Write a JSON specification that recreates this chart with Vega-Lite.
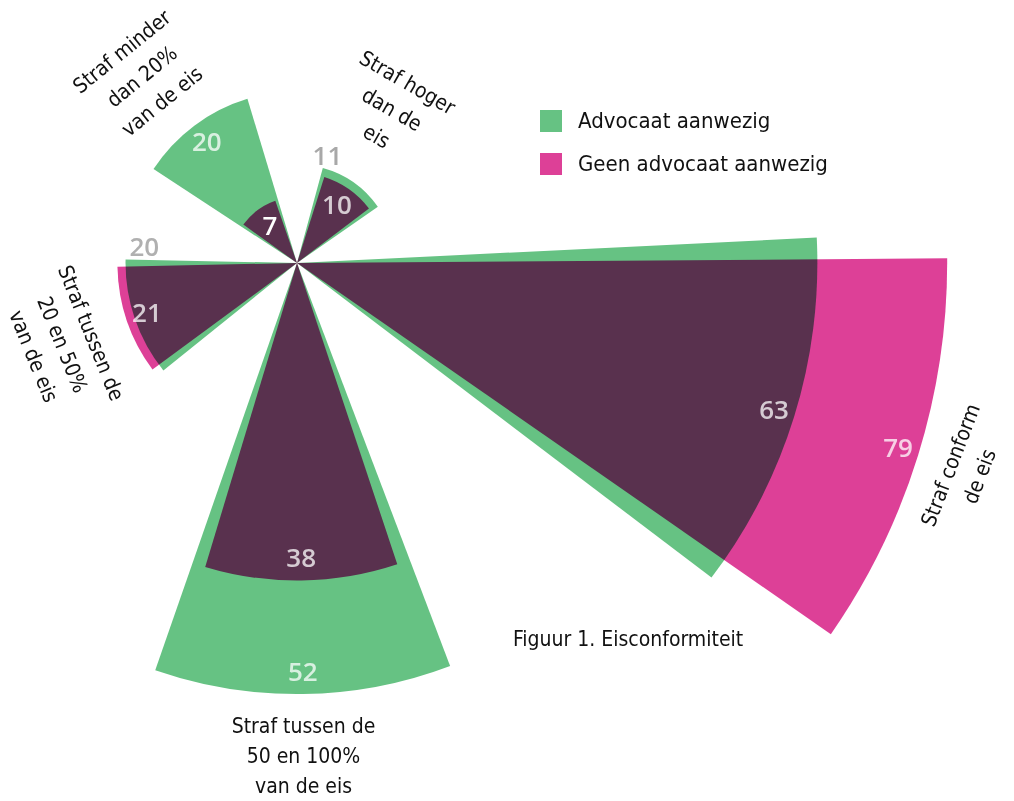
{
  "$schema": "https://vega.github.io/schema/vega-lite/v6.json",
  "autosize": "none",
  "width": 594,
  "height": 526,
  "padding": {"left": 0, "top": 0, "right": 420, "bottom": 275},
  "background": "white",
  "config": {"view": {"stroke": null}},
  "title": {
    "text": "Figuur 1. Eisconformiteit",
    "orient": "bottom",
    "anchor": "start",
    "frame": "group",
    "baseline": "alphabetic",
    "dx": 513,
    "offset": -151,
    "font": "DejaVu Sans Condensed",
    "fontSize": 21,
    "fontWeight": "normal",
    "color": "#111111"
  },
  "data": {
    "values": [
      {"cat": "Straf hoger dan de eis", "label": "Straf hoger\ndan de\neis", "series": "Advocaat aanwezig", "value": 11},
      {"cat": "Straf hoger dan de eis", "label": "Straf hoger\ndan de\neis", "series": "Geen advocaat aanwezig", "value": 10},
      {"cat": "Straf conform de eis", "label": "Straf conform\nde eis", "series": "Advocaat aanwezig", "value": 63},
      {"cat": "Straf conform de eis", "label": "Straf conform\nde eis", "series": "Geen advocaat aanwezig", "value": 79},
      {"cat": "Straf tussen de 50 en 100% van de eis", "label": "Straf tussen de\n50 en 100%\nvan de eis", "series": "Advocaat aanwezig", "value": 52},
      {"cat": "Straf tussen de 50 en 100% van de eis", "label": "Straf tussen de\n50 en 100%\nvan de eis", "series": "Geen advocaat aanwezig", "value": 38},
      {"cat": "Straf tussen de 20 en 50% van de eis", "label": "Straf tussen de\n20 en 50%\nvan de eis", "series": "Advocaat aanwezig", "value": 20},
      {"cat": "Straf tussen de 20 en 50% van de eis", "label": "Straf tussen de\n20 en 50%\nvan de eis", "series": "Geen advocaat aanwezig", "value": 21},
      {"cat": "Straf minder dan 20% van de eis", "label": "Straf minder\ndan 20%\nvan de eis", "series": "Advocaat aanwezig", "value": 20},
      {"cat": "Straf minder dan 20% van de eis", "label": "Straf minder\ndan 20%\nvan de eis", "series": "Geen advocaat aanwezig", "value": 7}
    ]
  },
  "encoding": {
    "theta": {
      "field": "cat",
      "type": "nominal",
      "sort": null,
      "scale": {
        "type": "band",
        "domain": ["Straf hoger dan de eis", "Straf conform de eis", "Straf tussen de 50 en 100% van de eis", "Straf tussen de 20 en 50% van de eis", "Straf minder dan 20% van de eis"],
        "range": [-0.014, 6.269185307179586],
        "paddingInner": 0,
        "paddingOuter": 0
      }
    },
    "radius": {
      "field": "value",
      "type": "quantitative",
      "stack": null,
      "scale": {"type": "linear", "domain": [0, 80], "range": [9.2, 658.3], "zero": false}
    }
  },
  "layer": [
    {
      "transform": [{"filter": "datum.series === 'Advocaat aanwezig'"}],
      "mark": {"type": "arc", "padAngle": 0.5585, "blend": "multiply"},
      "encoding": {
        "radius2": {"value": 0},
        "color": {
          "field": "series",
          "type": "nominal",
          "scale": {"domain": ["Advocaat aanwezig", "Geen advocaat aanwezig"], "range": ["#66c283", "#dd4097"]},
          "legend": {
            "orient": "none",
            "legendX": 540,
            "legendY": 110,
            "title": null,
            "symbolType": "square",
            "symbolSize": 484,
            "symbolOpacity": 1,
            "symbolStrokeWidth": 0,
            "labelFont": "DejaVu Sans Condensed",
            "labelFontSize": 22,
            "labelColor": "#111111",
            "labelLimit": 0,
            "labelOffset": 16,
            "rowPadding": 21,
            "padding": 0
          }
        }
      }
    },
    {
      "transform": [{"filter": "datum.series === 'Geen advocaat aanwezig'"}],
      "mark": {"type": "arc", "padAngle": 0.642, "blend": "multiply"},
      "encoding": {
        "radius2": {"value": 0},
        "color": {"field": "series", "type": "nominal"}
      }
    },
    {
      "transform": [{"filter": "!(datum.series === 'Advocaat aanwezig' && (datum.cat === 'Straf hoger dan de eis' || datum.cat === 'Straf tussen de 20 en 50% van de eis'))"}],
      "mark": {"type": "text", "radiusOffset": -21, "font": "Open Sans", "fontSize": 26, "fontWeight": 600, "fill": "white", "align": "center", "baseline": "middle"},
      "encoding": {
        "text": {"field": "value", "type": "quantitative"},
        "fillOpacity": {"condition": {"test": "datum.value === 7", "value": 1}, "value": 0.75}
      }
    },
    {
      "transform": [{"filter": "datum.series === 'Advocaat aanwezig' && datum.cat === 'Straf hoger dan de eis'"}],
      "mark": {"type": "text", "radiusOffset": 12, "thetaOffset": -0.335, "font": "Open Sans", "fontSize": 26, "fontWeight": 600, "fill": "#a8a8a8", "align": "center", "baseline": "middle"},
      "encoding": {"text": {"field": "value", "type": "quantitative"}}
    },
    {
      "transform": [{"filter": "datum.series === 'Advocaat aanwezig' && datum.cat === 'Straf tussen de 20 en 50% van de eis'"}],
      "mark": {"type": "text", "radiusOffset": -18, "thetaOffset": 0.428, "font": "Open Sans", "fontSize": 26, "fontWeight": 600, "fill": "#b0b0b0", "align": "center", "baseline": "middle"},
      "encoding": {"text": {"field": "value", "type": "quantitative"}}
    },
    {
      "transform": [{"filter": "datum.series === 'Advocaat aanwezig' && datum.cat === 'Straf hoger dan de eis'"}],
      "mark": {"type": "text", "radiusOffset": 112, "thetaOffset": -0.065, "angle": 30, "lineBreak": "\n", "lineHeight": 31, "font": "DejaVu Sans Condensed", "fontSize": 21, "fill": "#111111", "align": "center", "baseline": "middle"},
      "encoding": {"text": {"field": "label", "type": "nominal"}}
    },
    {
      "transform": [{"filter": "datum.series === 'Geen advocaat aanwezig' && datum.cat === 'Straf conform de eis'"}],
      "mark": {"type": "text", "radiusOffset": 35, "angle": 291, "lineBreak": "\n", "lineHeight": 31, "font": "DejaVu Sans Condensed", "fontSize": 21, "fill": "#111111", "align": "center", "baseline": "middle"},
      "encoding": {"text": {"field": "label", "type": "nominal"}}
    },
    {
      "transform": [{"filter": "datum.series === 'Advocaat aanwezig' && datum.cat === 'Straf tussen de 50 en 100% van de eis'"}],
      "mark": {"type": "text", "radiusOffset": 33, "angle": 0, "lineBreak": "\n", "lineHeight": 30, "font": "DejaVu Sans Condensed", "fontSize": 21, "fill": "#111111", "align": "center", "baseline": "middle"},
      "encoding": {"text": {"field": "label", "type": "nominal"}}
    },
    {
      "transform": [{"filter": "datum.series === 'Geen advocaat aanwezig' && datum.cat === 'Straf tussen de 20 en 50% van de eis'"}],
      "mark": {"type": "text", "radiusOffset": 39, "angle": 68, "lineBreak": "\n", "lineHeight": 31, "font": "DejaVu Sans Condensed", "fontSize": 21, "fill": "#111111", "align": "center", "baseline": "middle"},
      "encoding": {"text": {"field": "label", "type": "nominal"}}
    },
    {
      "transform": [{"filter": "datum.series === 'Advocaat aanwezig' && datum.cat === 'Straf minder dan 20% van de eis'"}],
      "mark": {"type": "text", "radiusOffset": 102, "thetaOffset": -0.05, "angle": 321, "lineBreak": "\n", "lineHeight": 32, "font": "DejaVu Sans Condensed", "fontSize": 21, "fill": "#111111", "align": "center", "baseline": "middle"},
      "encoding": {"text": {"field": "label", "type": "nominal"}}
    }
  ]
}
